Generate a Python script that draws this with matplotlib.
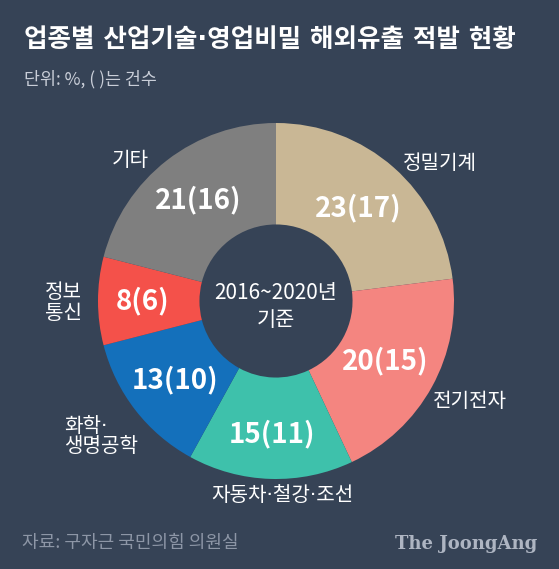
import matplotlib
matplotlib.use("Agg")
import matplotlib.pyplot as plt
import numpy as np

plt.rcParams['font.family'] = ['Noto Sans CJK KR', 'DejaVu Sans']
NARROW_DOT = ['DejaVu Sans', 'Noto Sans CJK KR']

categories = ['정밀기계', '전기전자', '자동차·철강·조선', '화학·\n생명공학', '정보\n통신', '기타']
shares = [23, 20, 15, 13, 8, 21]
counts = [17, 15, 11, 10, 6, 16]
colors = ['#c9b795', '#f48580', '#3ec1ab', '#1470bb', '#f4514a', '#7f7f7f']

BG = '#364356'
fig = plt.figure(figsize=(5.59, 5.69), dpi=100, facecolor=BG)

cx, cy, R = 276 / 559, 1 - 301 / 569, 178
ax = fig.add_axes([cx - R / 559, cy - R / 569, 2 * R / 559, 2 * R / 569])
ax.set_facecolor(BG)
wedges, _ = ax.pie(shares, colors=colors, startangle=90, counterclock=False,
                   radius=1.0, wedgeprops=dict(width=0.57, linewidth=0))
ax.set_xlim(-1, 1)
ax.set_ylim(-1, 1)
ax.set_aspect('equal')
ax.axis('off')

# value labels
val_r = [0.70, 0.70, 0.745, 0.72, 0.75, 0.716]
for w, s, c, r in zip(wedges, shares, counts, val_r):
    ang = np.deg2rad((w.theta1 + w.theta2) / 2)
    ax.text(r * np.cos(ang), r * np.sin(ang), f'{s}({c})', ha='center', va='center',
            color='white', fontsize=20, fontweight='bold')

# category labels (positions in pie coordinates)
cat_pos = [(0.713, 0.775, 'left'),
           (0.882, -0.567, 'left'),
           (0.034, -1.09, 'center'),
           (-1.19, -0.761, 'left'),
           (-1.30, -0.011, 'left'),
           (-0.715, 0.792, 'right')]
for name, (x, y, ha) in zip(categories, cat_pos):
    ax.text(x, y, name, ha=ha, va='center', color='white', fontsize=14.5, linespacing=1.1,
            clip_on=False, family=NARROW_DOT)

ax.text(0, 0.045, '2016~2020년', ha='center', va='center', color='white', fontsize=15,
        fontweight='light')
ax.text(0, -0.107, '기준', ha='center', va='center', color='white', fontsize=15,
        fontweight='light')

fig.text(24 / 559, 1 - 40 / 569, '업종별 산업기술·영업비밀 해외유출 적발 현황', ha='left', va='center',
         color='white', fontsize=18.4, fontweight='bold', family=NARROW_DOT)
fig.text(24 / 559, 1 - 79 / 569, '단위: %, ( )는 건수', ha='left', va='center',
         color='#c9ced8', fontsize=12.5)
fig.text(22 / 559, 1 - 543 / 569, '자료: 구자근 국민의힘 의원실', ha='left', va='center',
         color='#8d96a6', fontsize=13)
fig.text(537 / 559, 1 - 544 / 569, 'The JoongAng', ha='right', va='center',
         color='#aeb5c2', fontsize=13, fontweight='bold', family='DejaVu Serif')

fig.savefig('out.png', dpi=100, facecolor=BG)
